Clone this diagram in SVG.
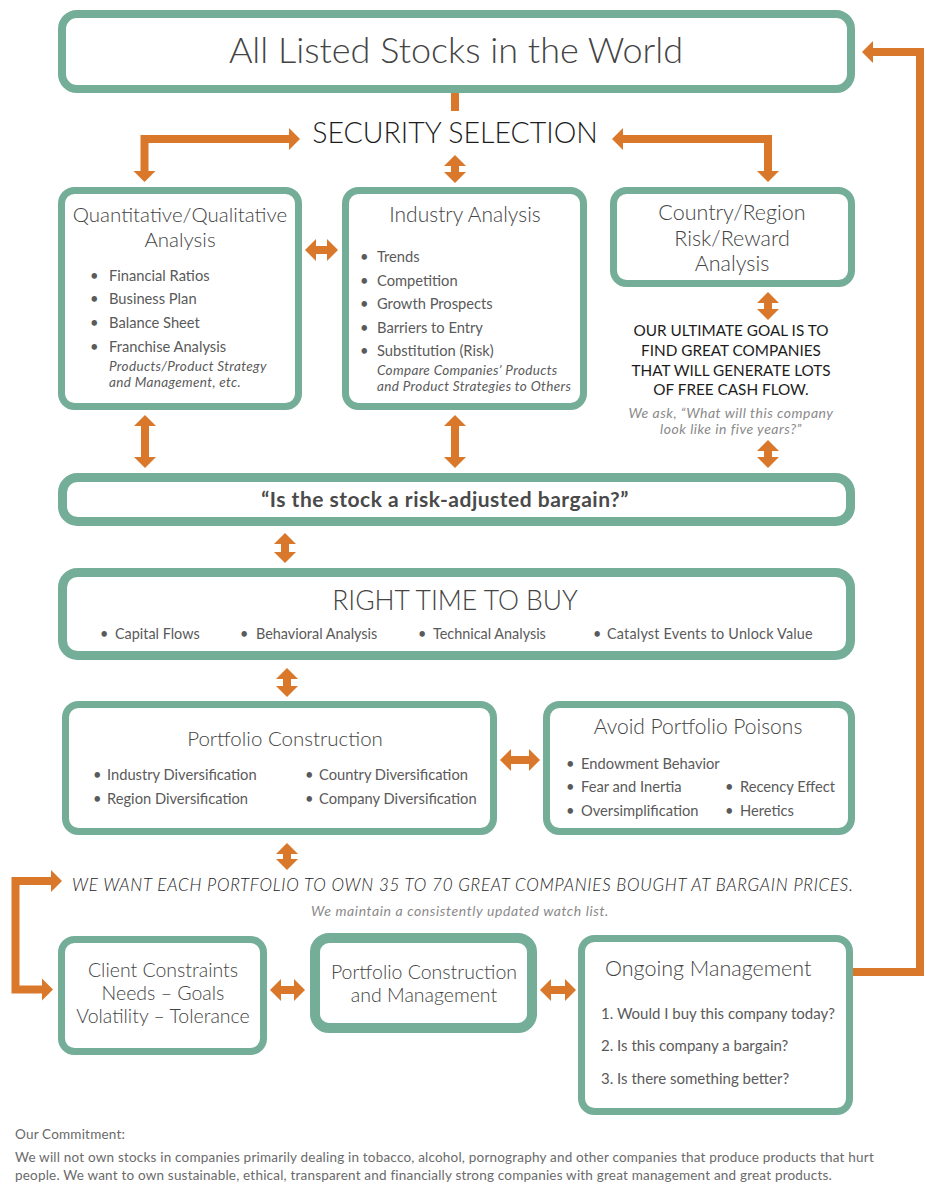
<svg xmlns="http://www.w3.org/2000/svg" width="927" height="1184" viewBox="0 0 927 1184">
  <style>
    .box { fill: #ffffff; stroke: #74ad98; stroke-width: 7; }
    .thick { stroke-width: 9; }
    .conn { fill: none; stroke: #d9782a; stroke-width: 8; stroke-linejoin: miter; stroke-linecap: butt; }
    .t { font-family: Lato, "Liberation Sans", sans-serif; fill: #5a5a5a; }
    .title { font-size: 20.5px; font-weight: 300; fill: #444444; }
    .mid { text-anchor: middle; }
    .li { font-size: 14.7px; }
    .note { font-size: 13.5px; font-style: italic; letter-spacing: 0.35px; }
    .grey { fill: #8a8a8a; font-size: 14px; letter-spacing: 0.5px; }
    .caps { font-family: Lato, "Liberation Sans", sans-serif; fill: #1c1c1c; }
    .foot { font-size: 13.5px; fill: #6a6a6a; letter-spacing: 0.2px; }
  </style>
  <defs>
    <marker id="head" markerUnits="userSpaceOnUse" markerWidth="14" markerHeight="24" refX="0" refY="11" orient="auto-start-reverse" overflow="visible">
      <path d="M-1,0 L10,11 L-1,22 Z" fill="#d9782a"/>
    </marker>
  </defs>

  <rect width="927" height="1184" fill="#ffffff"/>

  <!-- connectors -->
  <g id="connectors">
    <path class="conn" d="M455,93 V111"/>
    <path class="conn" d="M290,139 H144.5 V172" marker-start="url(#head)" marker-end="url(#head)"/>
    <path class="conn" d="M622,139 H768 V172" marker-start="url(#head)" marker-end="url(#head)"/>
    <!-- vertical two-way arrows -->
    <path class="conn" d="M455,165 V173" marker-start="url(#head)" marker-end="url(#head)"/>
    <path class="conn" d="M768,302 V310" marker-start="url(#head)" marker-end="url(#head)"/>
    <path class="conn" d="M768,450 V458" marker-start="url(#head)" marker-end="url(#head)"/>
    <path class="conn" d="M145,425 V458" marker-start="url(#head)" marker-end="url(#head)"/>
    <path class="conn" d="M455,425 V458" marker-start="url(#head)" marker-end="url(#head)"/>
    <path class="conn" d="M285,543 V553" marker-start="url(#head)" marker-end="url(#head)"/>
    <path class="conn" d="M287,678 V687" marker-start="url(#head)" marker-end="url(#head)"/>
    <path class="conn" d="M287,853 V860" marker-start="url(#head)" marker-end="url(#head)"/>
    <!-- horizontal two-way arrows -->
    <path class="conn" d="M315,250 H328" marker-start="url(#head)" marker-end="url(#head)"/>
    <path class="conn" d="M510,760 H530" marker-start="url(#head)" marker-end="url(#head)"/>
    <path class="conn" d="M280,990 H295" marker-start="url(#head)" marker-end="url(#head)"/>
    <path class="conn" d="M550,990 H566" marker-start="url(#head)" marker-end="url(#head)"/>
    <!-- loops -->
    <path class="conn" d="M52,881 H15.5 V989.5 H43" marker-start="url(#head)" marker-end="url(#head)"/>
    <path class="conn" d="M853,972 H920 V52 H872" marker-end="url(#head)"/>
  </g>

  <g id="all-stocks">
    <rect class="box" x="62" y="14" width="789" height="75" rx="15" style="stroke-width:8"/>
    <text class="t mid" x="456" y="63" font-size="36" font-weight="300" style="fill:#444444">All Listed Stocks in the World</text>
  </g>

  <g id="security-selection">
    <text class="caps mid" x="455" y="143" font-size="28.5" font-weight="300">SECURITY SELECTION</text>
  </g>

  <g id="quant-qual">
    <rect class="box" x="61.5" y="190.5" width="237" height="216" rx="13"/>
    <text class="t title mid" x="180" y="222">Quantitative/Qualitative</text>
    <text class="t title mid" x="180" y="247">Analysis</text>
    <g class="t li">
      <text x="90" y="281">•</text><text x="109" y="281">Financial Ratios</text>
      <text x="90" y="304">•</text><text x="109" y="304">Business Plan</text>
      <text x="90" y="328">•</text><text x="109" y="328">Balance Sheet</text>
      <text x="90" y="352">•</text><text x="109" y="352">Franchise Analysis</text>
    </g>
    <text class="t note" x="109" y="371">Products/Product Strategy</text>
    <text class="t note" x="109" y="387">and Management, etc.</text>
  </g>

  <g id="industry">
    <rect class="box" x="345.5" y="190.5" width="238" height="216" rx="13"/>
    <text class="t title mid" x="465" y="222" style="font-size:21px">Industry Analysis</text>
    <g class="t li">
      <text x="360" y="262">•</text><text x="377" y="262">Trends</text>
      <text x="360" y="286">•</text><text x="377" y="286">Competition</text>
      <text x="360" y="309">•</text><text x="377" y="309">Growth Prospects</text>
      <text x="360" y="333">•</text><text x="377" y="333">Barriers to Entry</text>
      <text x="360" y="356">•</text><text x="377" y="356">Substitution (Risk)</text>
    </g>
    <text class="t note" x="377" y="375">Compare Companies’ Products</text>
    <text class="t note" x="377" y="391">and Product Strategies to Others</text>
  </g>

  <g id="country-region">
    <rect class="box" x="613.5" y="190.5" width="238" height="93" rx="13"/>
    <text class="t title mid" x="732" y="220" style="font-size:21.5px">Country/Region</text>
    <text class="t title mid" x="732" y="246" style="font-size:21.5px">Risk/Reward</text>
    <text class="t title mid" x="732" y="271" style="font-size:21.5px">Analysis</text>
  </g>

  <g id="ultimate-goal">
    <text class="caps mid" x="731" y="336" font-size="15.3">OUR ULTIMATE GOAL IS TO</text>
    <text class="caps mid" x="731" y="356" font-size="15.3">FIND GREAT COMPANIES</text>
    <text class="caps mid" x="731" y="376" font-size="15.3">THAT WILL GENERATE LOTS</text>
    <text class="caps mid" x="731" y="395" font-size="15.3">OF FREE CASH FLOW.</text>
    <text class="t note grey mid" x="731" y="418">We ask, “What will this company</text>
    <text class="t note grey mid" x="731" y="434">look like in five years?”</text>
  </g>

  <g id="bargain">
    <rect class="box thick" x="62.5" y="477.5" width="788" height="44" rx="15"/>
    <text class="t mid" x="445" y="507" font-size="21" font-weight="700" letter-spacing="0.5" style="fill:#4a4a4a">“Is the stock a risk-adjusted bargain?”</text>
  </g>

  <g id="right-time">
    <rect class="box thick" x="62.5" y="572.5" width="788" height="83" rx="15"/>
    <text class="t mid" x="455" y="610" font-size="26.5" font-weight="300" style="fill:#444444">RIGHT TIME TO BUY</text>
    <g class="t" font-size="14.4">
      <text x="100" y="639">•</text><text x="115" y="639">Capital Flows</text>
      <text x="240" y="639">•</text><text x="256" y="639">Behavioral Analysis</text>
      <text x="418" y="639">•</text><text x="433" y="639">Technical Analysis</text>
      <text x="593" y="639">•</text><text x="607" y="639" letter-spacing="0.2">Catalyst Events to Unlock Value</text>
    </g>
  </g>

  <g id="portfolio-construction">
    <rect class="box" x="65.5" y="704.5" width="428" height="127" rx="13"/>
    <text class="t title mid" x="285" y="746">Portfolio Construction</text>
    <g class="t li">
      <text x="93" y="780">•</text><text x="107" y="780">Industry Diversification</text>
      <text x="93" y="804">•</text><text x="107" y="804">Region Diversification</text>
      <text x="305" y="780">•</text><text x="319" y="780">Country Diversification</text>
      <text x="305" y="804">•</text><text x="319" y="804">Company Diversification</text>
    </g>
  </g>

  <g id="portfolio-poisons">
    <rect class="box" x="546.5" y="704.5" width="305" height="127" rx="13"/>
    <text class="t title mid" x="698" y="734" style="font-size:21px">Avoid Portfolio Poisons</text>
    <g class="t li">
      <text x="566" y="769">•</text><text x="581" y="769">Endowment Behavior</text>
      <text x="566" y="792">•</text><text x="581" y="792">Fear and Inertia</text>
      <text x="566" y="816">•</text><text x="581" y="816">Oversimplification</text>
      <text x="725" y="792">•</text><text x="740" y="792">Recency Effect</text>
      <text x="725" y="816">•</text><text x="740" y="816">Heretics</text>
    </g>
  </g>

  <g id="portfolio-goal">
    <text class="caps" x="72" y="891" font-size="17" font-style="italic" font-weight="300" letter-spacing="0.72">WE WANT EACH PORTFOLIO TO OWN 35 TO 70 GREAT COMPANIES BOUGHT AT BARGAIN PRICES.</text>
    <text class="t note grey mid" x="460" y="916" style="letter-spacing:0.6px">We maintain a consistently updated watch list.</text>
  </g>

  <g id="client-constraints">
    <rect class="box" x="61.5" y="939.5" width="202" height="112" rx="13"/>
    <text class="t mid" x="163" y="977" font-size="19.5" font-weight="300" style="fill:#444444">Client Constraints</text>
    <text class="t mid" x="163" y="1000" font-size="19.5" font-weight="300" style="fill:#444444">Needs – Goals</text>
    <text class="t mid" x="163" y="1023" font-size="19.5" font-weight="300" style="fill:#444444">Volatility – Tolerance</text>
  </g>

  <g id="construction-management">
    <rect class="box" x="315" y="938" width="217" height="90" rx="14" style="stroke-width:10"/>
    <text class="t mid" x="424" y="979" font-size="19.5" font-weight="300" style="fill:#444444">Portfolio Construction</text>
    <text class="t mid" x="424" y="1002" font-size="19.5" font-weight="300" style="fill:#444444">and Management</text>
  </g>

  <g id="ongoing-management">
    <rect class="box" x="581.5" y="938.5" width="268" height="173" rx="13"/>
    <text class="t" x="605" y="976" font-size="21.5" font-weight="300" style="fill:#444444">Ongoing Management</text>
    <g class="t" font-size="15">
      <text x="601" y="1019">1. Would I buy this company today?</text>
      <text x="601" y="1051">2. Is this company a bargain?</text>
      <text x="601" y="1084">3. Is there something better?</text>
    </g>
  </g>

  <g id="commitment">
    <text class="t foot" x="15" y="1139">Our Commitment:</text>
    <text class="t foot" x="15" y="1162">We will not own stocks in companies primarily dealing in tobacco, alcohol, pornography and other companies that produce products that hurt</text>
    <text class="t foot" x="15" y="1180">people. We want to own sustainable, ethical, transparent and financially strong companies with great management and great products.</text>
  </g>
</svg>
